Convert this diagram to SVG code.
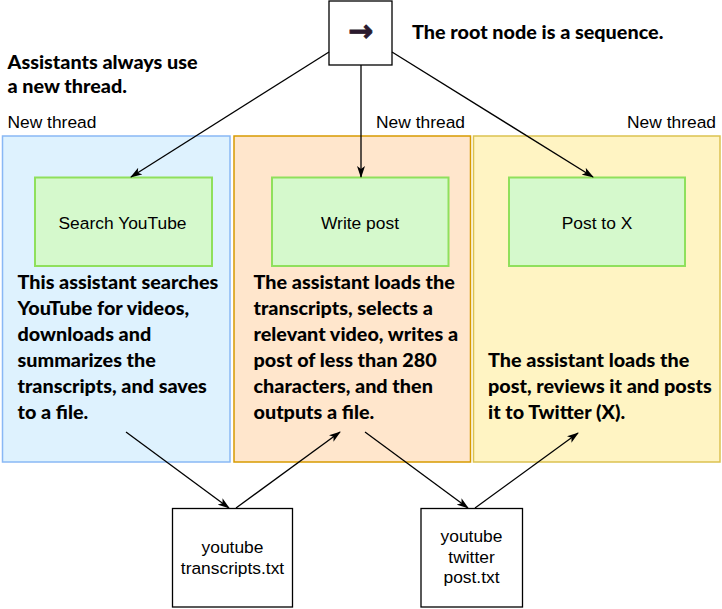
<svg xmlns="http://www.w3.org/2000/svg" width="722" height="609" viewBox="0 0 722 609">
<defs>
<marker id="arr" viewBox="0 0 12 8" refX="11" refY="4" markerWidth="12" markerHeight="8" markerUnits="userSpaceOnUse" orient="auto">
<path d="M0,0 L12,4 L0,8 L3,4 Z" fill="#000"/>
</marker>
</defs>
<style>
.lbl{font-family:"Liberation Sans",Arial,sans-serif;font-size:17.4px;fill:#000}
.node{font-family:"Liberation Sans",Arial,sans-serif;font-size:17.4px;fill:#000;text-anchor:middle}
.note{font-family:Lato,"Noto Sans",sans-serif;font-weight:900;font-size:19.8px;fill:#000}
.green{fill:#d5f9cc;stroke:#8fe05c;stroke-width:2}
.file{fill:#fff;stroke:#000;stroke-width:1.3}
.edge{stroke:#000;stroke-width:1.3;fill:none;marker-end:url(#arr)}
</style>
<rect width="722" height="609" fill="#fff"/>

<g id="thread-blue">
<rect x="2.5" y="136" width="227.5" height="326" fill="#def2fe" stroke="#89b8f5" stroke-width="1.5"/>
<text class="lbl" x="7.5" y="128">New thread</text>
</g>
<g id="thread-orange">
<rect x="234" y="136" width="236.5" height="326" fill="#ffe6cc" stroke="#d79b00" stroke-width="1.5"/>
<text class="lbl" x="465" y="128" text-anchor="end">New thread</text>
</g>
<g id="thread-yellow">
<rect x="473.5" y="136" width="246.5" height="326" fill="#fff4c3" stroke="#dcc250" stroke-width="1.5"/>
<text class="lbl" x="716" y="128" text-anchor="end">New thread</text>
</g>

<g id="root">
<rect x="329" y="1" width="63" height="64" class="file"/>
<text x="360.5" y="41" font-family="DejaVu Sans,sans-serif" font-size="30" font-weight="700" fill="#2b1a2e" text-anchor="middle" stroke="#2b1a2e" stroke-width="0.8">→</text>
</g>

<g id="search-youtube">
<rect x="35" y="177.5" width="177" height="88.5" class="green"/>
<text class="node" x="122.5" y="228.5">Search YouTube</text>
</g>
<g id="write-post">
<rect x="272" y="177.5" width="176.5" height="88.5" class="green"/>
<text class="node" x="360" y="228.5">Write post</text>
</g>
<g id="post-to-x">
<rect x="509" y="177.5" width="176" height="88.5" class="green"/>
<text class="node" x="597" y="228.5">Post to X</text>
</g>

<g id="file-transcripts">
<rect x="172.5" y="508.5" width="120" height="98.5" class="file"/>
<text class="node" x="232.5" y="553">youtube</text>
<text class="node" x="232.5" y="574">transcripts.txt</text>
</g>
<g id="file-post">
<rect x="421" y="508.5" width="101.5" height="98.5" class="file"/>
<text class="node" x="471.5" y="542">youtube</text>
<text class="node" x="471.5" y="562.5">twitter</text>
<text class="node" x="471.5" y="583">post.txt</text>
</g>

<g id="notes">
<text class="note" x="7.5" y="69">Assistants always use</text>
<text class="note" x="7.5" y="93">a new thread.</text>
<text class="note" x="412" y="39">The root node is a sequence.</text>
<text class="note" x="17.5" y="289">This assistant searches</text>
<text class="note" x="17.5" y="315">YouTube for videos,</text>
<text class="note" x="17.5" y="341">downloads and</text>
<text class="note" x="17.5" y="367">summarizes the</text>
<text class="note" x="17.5" y="393">transcripts, and saves</text>
<text class="note" x="17.5" y="419">to a file.</text>
<text class="note" x="253.5" y="289">The assistant loads the</text>
<text class="note" x="253.5" y="315">transcripts, selects a</text>
<text class="note" x="253.5" y="341">relevant video, writes a</text>
<text class="note" x="253.5" y="367">post of less than 280</text>
<text class="note" x="253.5" y="393">characters, and then</text>
<text class="note" x="253.5" y="419">outputs a file.</text>
<text class="note" x="488" y="367">The assistant loads the</text>
<text class="note" x="488" y="393">post, reviews it and posts</text>
<text class="note" x="488" y="419">it to Twitter (X).</text>
</g>

<g id="connectors">
<line class="edge" x1="329" y1="52" x2="131" y2="177"/>
<line class="edge" x1="361" y1="65" x2="361" y2="177"/>
<line class="edge" x1="392" y1="52" x2="593" y2="177"/>
<line class="edge" x1="126" y1="432" x2="229" y2="508"/>
<line class="edge" x1="236" y1="508" x2="340" y2="432"/>
<line class="edge" x1="365" y1="432" x2="468" y2="508"/>
<line class="edge" x1="475" y1="508" x2="578" y2="433"/>
</g>
</svg>
